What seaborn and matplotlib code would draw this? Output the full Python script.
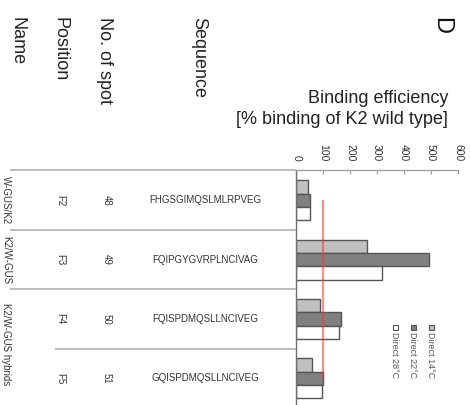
import matplotlib
matplotlib.use("Agg")
import matplotlib.pyplot as plt
from matplotlib.patches import Rectangle
import pandas as pd
import seaborn as sns

# Peptide spots and their binding relative to the K2 wild type (%)
positions = ["F2", "F3", "F4", "F5"]
spots = ["48", "49", "50", "51"]
sequences = [
    "FHGSGIMQSLMLRPVEG",
    "FQIPGYGVRPLNCIVAG",
    "FQISPDMQSLLNCIVEG",
    "GQISPDMQSLLNCIVEG",
]
conditions = ["Direct 14°C", "Direct 22°C", "Direct 28°C"]
direct_14 = [44, 262, 89, 57]
direct_22 = [50, 491, 167, 99]
direct_28 = [52, 319, 157, 95]
wild_type_level = 100
value_ticks = [0, 100, 200, 300, 400, 500, 600]

bar_colors = ["#c0c0c0", "#808080", "#ffffff"]

df = pd.DataFrame({
    "position": positions * 3,
    "condition": [c for c in conditions for _ in positions],
    "value": direct_14 + direct_22 + direct_28,
})

sns.set_style("white")
plt.rcParams["font.family"] = ["Liberation Sans", "DejaVu Sans"]

W, H = 470, 405
fig = plt.figure(figsize=(W / 100, H / 100), dpi=100)


def fx(x):
    return x / W


def fy(y):
    return 1 - y / H


ax_left, ax_right, ax_top = 296.3, 458.0, 169.5
ax = fig.add_axes([fx(ax_left), 0, fx(ax_right - ax_left), fy(ax_top)])
tab = fig.add_axes([0, 0, fx(ax_left), fy(ax_top)], sharey=ax)

sns.barplot(
    data=df, y="position", x="value", hue="condition",
    order=positions, hue_order=conditions, palette=bar_colors,
    orient="h", width=0.675, saturation=1, edgecolor="#555555",
    linewidth=1.0, legend=False, ax=ax,
)

y_top = -0.52
y_bottom = y_top + (H - ax_top) / 59.3
ax.set_ylim(y_bottom, y_top)
ax.set_xlim(value_ticks[0], value_ticks[-1])

# wild-type reference level
ax.vlines(wild_type_level, 0, 3, color="#ff3333", alpha=0.55, lw=1.6, zorder=6)

ax.xaxis.tick_top()
ax.set_xticks(value_ticks)
ax.set_xticklabels([str(v) for v in value_ticks], rotation=-90, fontsize=7.5,
                   color="#333333")
ax.tick_params(axis="x", direction="in", length=3, width=0.8, color="#999999",
               pad=6)
ax.set_yticks([])
ax.set_xlabel("")
ax.set_ylabel("")
for side in ("right", "bottom"):
    ax.spines[side].set_visible(False)
ax.spines["top"].set_color("#a0a0a0")
ax.spines["left"].set_color("#707070")
ax.spines["top"].set_linewidth(1.0)
ax.spines["left"].set_linewidth(1.0)

# table of spot details to the left of the bars
tab.set_xlim(0, ax_left)
tab.axis("off")
line_kw = dict(color="#b0b0b0", lw=1.2, clip_on=False)
tab.hlines([y_top, 0.5, 1.5], 10, ax_left, **line_kw)
tab.hlines([2.5], 55, ax_left, **line_kw)

small = 7
for i in range(len(positions)):
    tab.text(60, i, positions[i], rotation=-90, ha="center", va="center",
             fontsize=small, color="#333333")
    tab.text(106.5, i, spots[i], rotation=-90, ha="center", va="center",
             fontsize=small, color="#333333")
    tab.text(205, i, sequences[i], ha="center", va="center",
             fontsize=small, color="#333333")

tab.text(6, 0, "W-GUS/K2", rotation=-90, ha="center", va="center",
         fontsize=small, color="#333333")
tab.text(6, 1, "K2/W-GUS", rotation=-90, ha="center", va="center",
         fontsize=small, color="#333333")
tab.text(6, 2.43, "K2/W-GUS hybrids", rotation=-90, ha="center", va="center",
         fontsize=small, color="#333333")

# column headers
for x, label in [(17, "Name"), (60, "Position"), (104, "No. of spot"),
                 (199, "Sequence")]:
    fig.text(fx(x), fy(17), label, rotation=-90, ha="center", va="top",
             fontsize=13, color="#222222")

fig.text(fx(441), fy(17), "D", rotation=-90, ha="center", va="top",
         fontsize=17, color="#111111")

fig.text(fx(448), fy(109), "Binding efficiency\n[% binding of K2 wild type]",
         ha="right", va="center", multialignment="right", fontsize=13,
         color="#222222", linespacing=1.3)

# legend with vertical entries
for x, label, color in [(431, conditions[0], bar_colors[0]),
                        (413, conditions[1], bar_colors[1]),
                        (395, conditions[2], bar_colors[2])]:
    fig.patches.append(Rectangle((fx(x - 2.5), fy(330)), 5 / W, 5 / H,
                                 transform=fig.transFigure, facecolor=color,
                                 edgecolor="#555555", lw=0.8))
    fig.text(fx(x), fy(332), label, rotation=-90, ha="center", va="top",
             fontsize=6.5, color="#555555")

fig.savefig("out.png", dpi=100)
